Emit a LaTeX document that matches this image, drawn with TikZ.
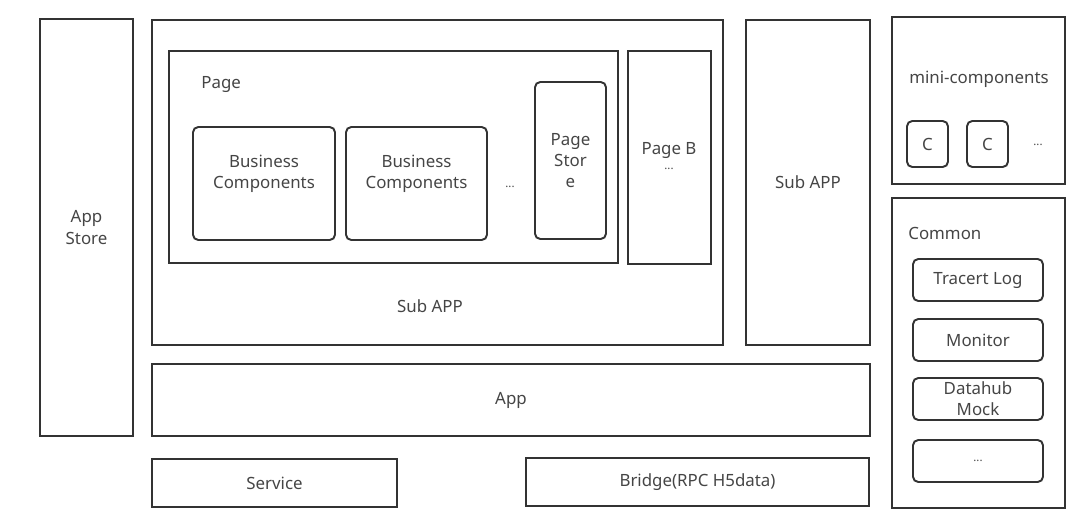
\documentclass[tikz,border=0pt]{standalone}
\usepackage{fontspec}
\setmainfont{Noto Sans}
\usetikzlibrary{fit,positioning}
\definecolor{linegray}{HTML}{333333}
\definecolor{txtgray}{HTML}{454545}
\tikzset{
	txt/.style={text=txtgray,font=\fontsize{9.6}{12}\selectfont,align=center,inner sep=0pt},
	box/.style={draw=linegray,line width=1.1pt,inner sep=0pt,fit={#1}},
	rbox/.style={box={#1},rounded corners=3pt},
	inside/.style={label={[txt]center:#1}},
	upper/.style={label={[txt,yshift=0.19cm]center:#1}},
	dots/.style={text=txtgray,font=\fontsize{6.5}{6.5}\selectfont,inner sep=0pt}
}
\begin{document}
\begin{tikzpicture}[x=0.02cm,y=-0.02cm]
	\useasboundingbox (0,0) rectangle (1076,522);
	% App Store
	\node[box={(40,19) (133,436)},inside={App\\Store}] (store) {};
	% Sub APP with page
	\node[box={(152,20) (723,345)}] (subA) {};
	\node[txt] (subAtxt) at (430,306) {Sub APP};
	\node[box={(169,51) (618,263)}] (page) {};
	\node[txt,anchor=west] (pagetxt) at (201,84) {Page};
	\node[rbox={(193,127) (335,240)},upper={Business\\Components}] (bc1) {};
	\node[rbox={(346,127) (487,240)},upper={Business\\Components}] (bc2) {};
	\node[dots] (bcdots) at (510,187) {...};
	\node[rbox={(535,82) (606,239)},inside={Page\\Stor\\e}] (pstore) {};
	\node[box={(628,51) (711,264)}] (pageB) {};
	\node[txt] (pageBtxt) at (669,150) {Page B};
	\node[dots] (pageBdots) at (669,169) {...};
	% second Sub APP
	\node[box={(746,20) (870,345)},inside={Sub APP}] (subB) {};
	% App, Service, Bridge
	\node[box={(152,364) (870,436)},inside=App] (app) {};
	\node[box={(152,459) (397,507)},inside=Service] (service) {};
	\node[box={(526,458) (869,506)},inside={Bridge(RPC H5data)}] (bridge) {};
	% mini-components
	\node[box={(892,17) (1065,184)}] (mini) {};
	\node[txt] (minitxt) at (979,79) {mini-components};
	\foreach \x/\n in {907/c1,967/c2} {
		\node[rbox={(\x,121) (\x+41,167)},inside=C] (\n) {};
	}
	\node[dots] (minidots) at (1038,145) {...};
	% Common
	\node[box={(892,198) (1065,508)}] (common) {};
	\node[txt,anchor=west] (commontxt) at (908,233) {Common};
	\foreach \y/\n/\t in {259/log/Tracert Log,319/mon/Monitor,378/hub/Datahub\\Mock} {
		\node[rbox={(913,\y) (1043,\y+42)},inside={\t}] (\n) {};
	}
	\node[rbox={(913,440) (1043,482)}] (more) {};
	\node[dots] (moredots) at (more.center) {...};
\end{tikzpicture}
\end{document}
